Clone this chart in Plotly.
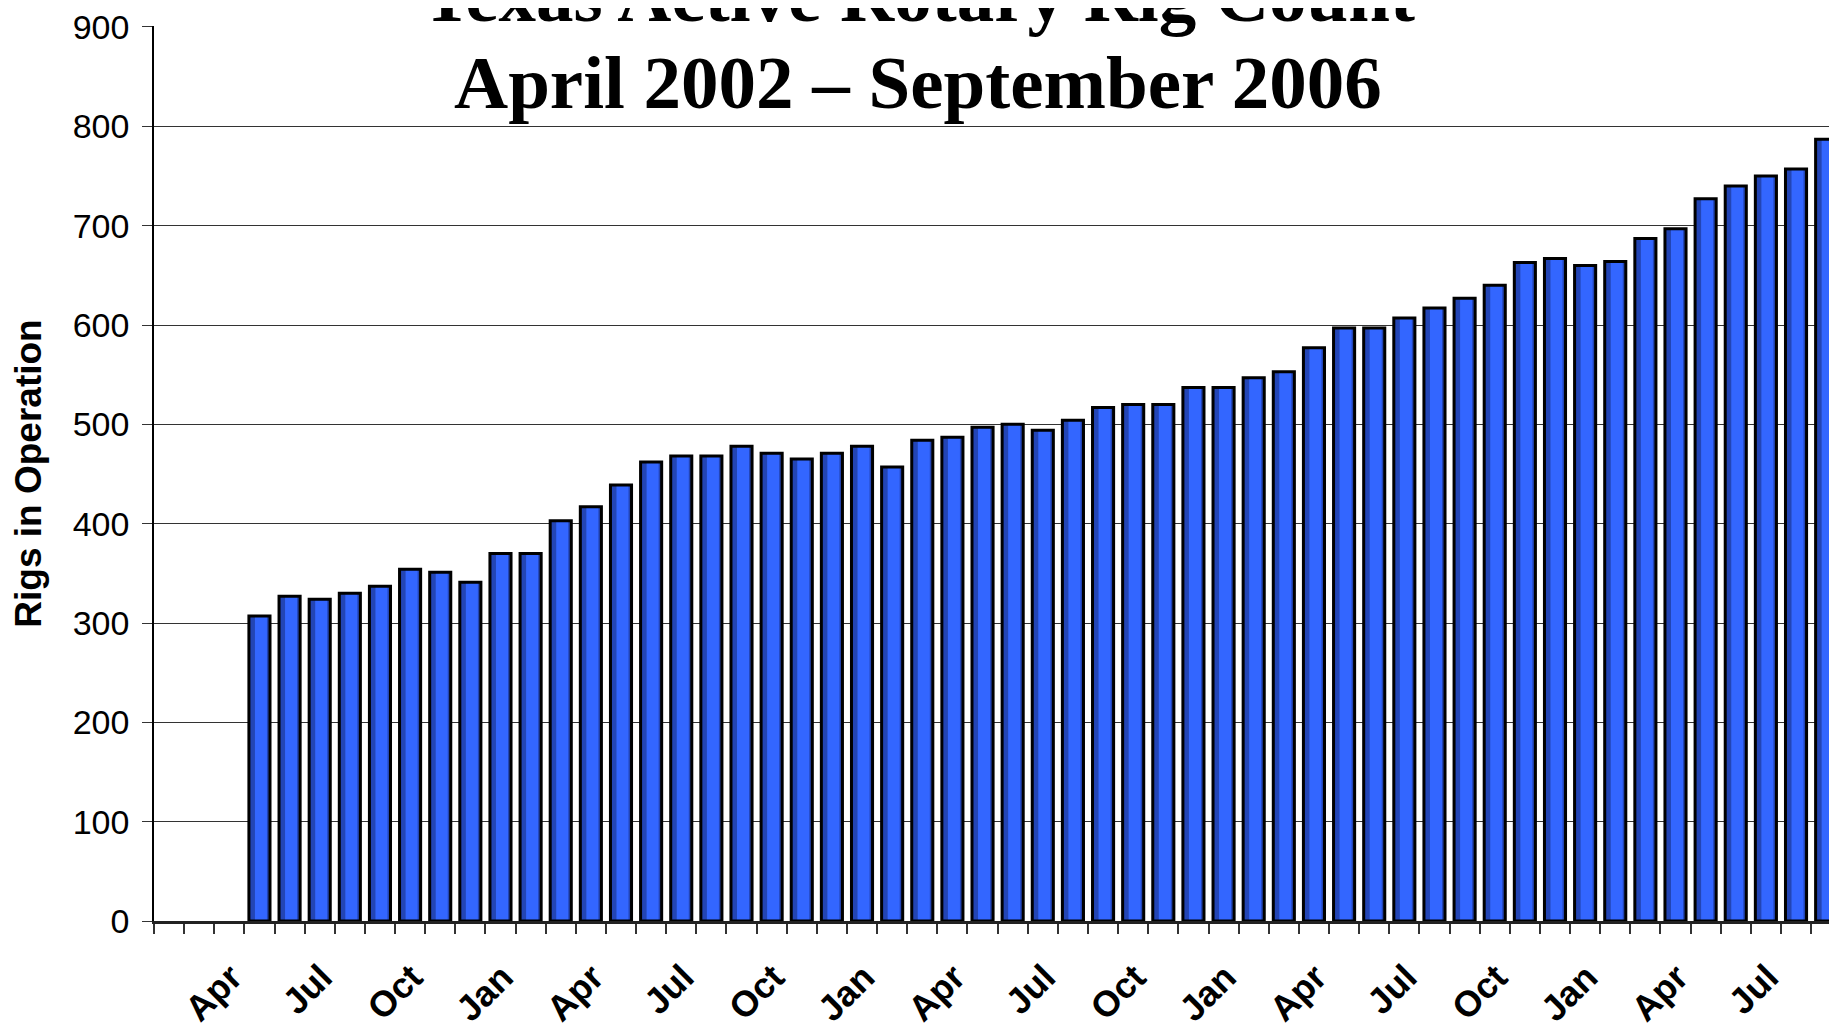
import plotly.graph_objects as go
import pandas as pd

# axis months: Feb 2002 .. Sep 2006, the first three slots stay empty
months = pd.date_range("2002-02-01", "2006-09-01", freq="MS")
month_keys = [m.strftime("%Y-%m") for m in months]
tick_text = [m.strftime("%b") if m.month in (1, 4, 7, 10) else "" for m in months]

data_months = month_keys[3:]
rigs = [307, 327, 324, 330, 337, 354, 351, 341, 370, 370,
        403, 417, 439, 462, 468, 468, 478, 471, 465, 471,
        478, 457, 484, 487, 497, 500, 494, 504, 517, 520,
        520, 537, 537, 547, 553, 577, 597, 597, 607, 617,
        627, 640, 663, 667, 660, 664, 687, 697, 727, 740,
        750, 757, 787]

title_lines = ["Texas Active Rotary Rig Count", "April 2002 \u2013 September 2006"]
y_title = "Rigs in Operation"

sans = "Liberation Sans, Arial, sans-serif"
serif = "Liberation Serif, Times New Roman, serif"

fig = go.Figure()
bar_w = 0.7
# dark body, bright core, black outline on top -> rough look of the shaded bars
fig.add_trace(go.Bar(x=data_months, y=rigs, width=bar_w,
                     marker=dict(color="#2345b5", line=dict(width=0)),
                     hoverinfo="skip"))
fig.add_trace(go.Bar(x=data_months, y=rigs, width=0.4, offset=-0.15,
                     marker=dict(color="#3366ff", line=dict(width=0)),
                     hoverinfo="skip"))
fig.add_trace(go.Bar(x=data_months, y=rigs, width=bar_w,
                     marker=dict(color="rgba(0,0,0,0)", line=dict(color="black", width=3)),
                     name="Rigs"))

# page body keeps an 8px margin, so the figure is 8px smaller than the window
fig.update_layout(
    width=1829, height=1026,
    barmode="overlay",
    showlegend=False,
    plot_bgcolor="white",
    paper_bgcolor="white",
    margin=dict(l=146, r=0, t=18, b=113),
    annotations=[
        dict(text=title_lines[0], xref="paper", yref="paper", x=0.4542, y=1.034,
             xanchor="center", yanchor="middle", showarrow=False,
             font=dict(family=serif, size=75, color="black", weight="bold")),
        dict(text=title_lines[1], xref="paper", yref="paper", x=0.4542, y=0.9366,
             xanchor="center", yanchor="middle", showarrow=False,
             font=dict(family=serif, size=75, color="black", weight="bold")),
    ],
)

fig.update_xaxes(
    type="category",
    categoryorder="array", categoryarray=month_keys,
    tickmode="array", tickvals=month_keys, ticktext=tick_text,
    tickangle=-45, tickson="boundaries",
    ticks="outside", ticklen=10, tickcolor="#333", tickwidth=1.5,
    ticklabelstandoff=18, ticklabelshift=2,
    showline=True, linecolor="#222", linewidth=2.5,
    showgrid=False, automargin=False,
    range=[-0.5, 55.36],
    tickfont=dict(family=sans, size=36, color="black", weight="bold"),
)
fig.update_yaxes(
    range=[0, 901], tickvals=list(range(0, 901, 100)),
    showgrid=True, gridcolor="#333", gridwidth=1.2,
    zeroline=False,
    showline=True, linecolor="black", linewidth=1.5,
    ticks="outside", ticklen=10, tickcolor="#333",
    ticklabelstandoff=6, ticklabeloverflow="allow",
    automargin=False,
    tickfont=dict(family=sans, size=34, color="black"),
    title=dict(text=y_title, standoff=26,
               font=dict(family=sans, size=37, color="black", weight="bold")),
)

fig.write_html("out.html")
